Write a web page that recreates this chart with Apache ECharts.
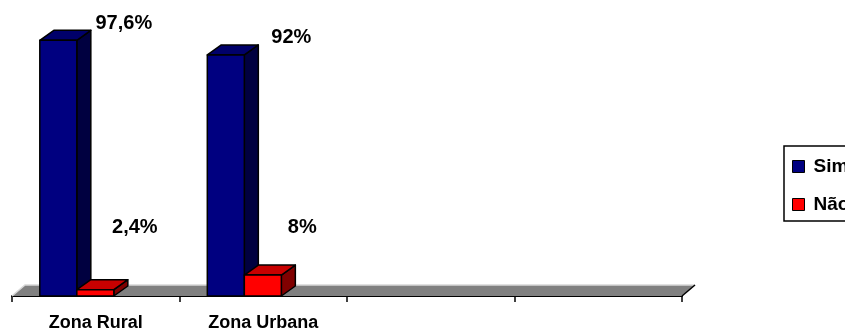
<!DOCTYPE html>
<html>
<head>
    <meta charset="utf-8">
    <title>Zona Rural / Zona Urbana</title>
    <script src="https://cdn.jsdelivr.net/npm/echarts@6/dist/echarts.min.js"></script>
</head>
<body style="margin:0">
    <div id="main" style="width: 845px;height:332px;"></div>
    <script type="text/javascript">

    var categories = ['Zona Rural', 'Zona Urbana', '', ''];
    var simValues = [97.6, 92];
    var naoValues = [2.4, 8];
    var simLabels = ['97,6%', '92%'];
    var naoLabels = ['2,4%', '8%'];

    var FONT = 'Liberation Sans, Arial, sans-serif';
    var DX = 14, DY = 10;

    function toData(values, labels) {
        var out = [];
        for (var i = 0; i < values.length; i++) {
            out.push([i, values[i], labels[i]]);
        }
        return out;
    }

    // 3D-looking bar: front, top and side faces
    function barRenderer(slot, colors) {
        return function (params, api) {
            var idx = api.value(0), v = api.value(1);
            var base = api.coord([idx, 0]);
            var top = api.coord([idx, v]);
            var band = api.size([1, 0])[0];
            var w = band * 0.221;
            var x0 = base[0] - band * 0.334 + slot * w;
            var x1 = x0 + w;
            var yt = top[1], yb = base[1];
            var stroke = { stroke: '#000', lineWidth: 1.5, lineJoin: 'round' };
            var label;
            if (slot === 0) {
                label = [x0 + 84, yt - 17];
            } else {
                label = [x0 + 58, api.coord([idx, 26])[1]];
            }
            return {
                type: 'group',
                children: [
                    { type: 'polygon', shape: { points: [[x1, yt], [x1 + DX, yt - DY], [x1 + DX, yb - DY], [x1, yb]] },
                      style: Object.assign({ fill: colors[2] }, stroke) },
                    { type: 'polygon', shape: { points: [[x0, yt], [x0 + DX, yt - DY], [x1 + DX, yt - DY], [x1, yt]] },
                      style: Object.assign({ fill: colors[1] }, stroke) },
                    { type: 'rect', shape: { x: x0, y: yt, width: w, height: yb - yt },
                      style: Object.assign({ fill: colors[0] }, stroke) },
                    { type: 'text', style: { text: api.value(2), x: label[0], y: label[1],
                      font: 'bold 20px ' + FONT, fill: '#000', align: 'center', verticalAlign: 'middle' } }
                ]
            };
        };
    }

    function floorRenderer(params, api) {
        var cs = params.coordSys;
        var x = cs.x, y = cs.y + cs.height, w = cs.width;
        return {
            type: 'group',
            children: [
                { type: 'polygon', shape: { points: [[x, y], [x + w, y], [x + w + 13, y - 11], [x + 13, y - 11]] },
                  style: { fill: '#808080' } },
                { type: 'polyline', shape: { points: [[x, y], [x + 13, y - 11], [x + w + 13, y - 11]] },
                  style: { stroke: '#d8d8d8', lineWidth: 1.5, fill: null } },
                { type: 'line', shape: { x1: x + w, y1: y, x2: x + w + 13, y2: y - 11 },
                  style: { stroke: '#000', lineWidth: 1.5 } }
            ]
        };
    }

    var myChart = echarts.init(document.getElementById('main'));

    var option = {
        backgroundColor: '#fff',
        animation: false,
        grid: { left: 12, right: 163, top: 34, bottom: 35 },
        legend: {
            data: ['Sim', 'Não'],
            orient: 'vertical',
            left: 784,
            top: 146,
            padding: [11, 30, 7, 8],
            itemGap: 19,
            itemWidth: 12,
            itemHeight: 12,
            icon: 'rect',
            borderColor: '#000',
            borderWidth: 1.5,
            itemStyle: { borderColor: '#000', borderWidth: 1 },
            textStyle: { fontFamily: FONT, fontWeight: 'bold', fontSize: 19, color: '#000',
                         padding: [0, 0, 0, 4] }
        },
        xAxis: {
            type: 'category',
            data: categories,
            axisLine: { show: true, lineStyle: { color: '#000', width: 2 } },
            axisTick: { show: true, length: 6, lineStyle: { color: '#000', width: 1.5 } },
            axisLabel: { margin: 18, color: '#000', fontFamily: FONT, fontWeight: 'bold', fontSize: 18 }
        },
        yAxis: { type: 'value', min: 0, max: 100, show: false },
        series: [
            { name: 'floor', type: 'custom', renderItem: floorRenderer, data: [[0]], silent: true, z: 1 },
            { name: 'Sim', type: 'custom', renderItem: barRenderer(0, ['#000080', '#00006a', '#000040']),
              itemStyle: { color: '#000080' }, data: toData(simValues, simLabels), z: 3 },
            { name: 'Não', type: 'custom', renderItem: barRenderer(1, ['#ff0000', '#c80000', '#800000']),
              itemStyle: { color: '#ff0000' }, data: toData(naoValues, naoLabels), z: 3 }
        ]
    };

    myChart.setOption(option);
    </script>
</body>
</html>
